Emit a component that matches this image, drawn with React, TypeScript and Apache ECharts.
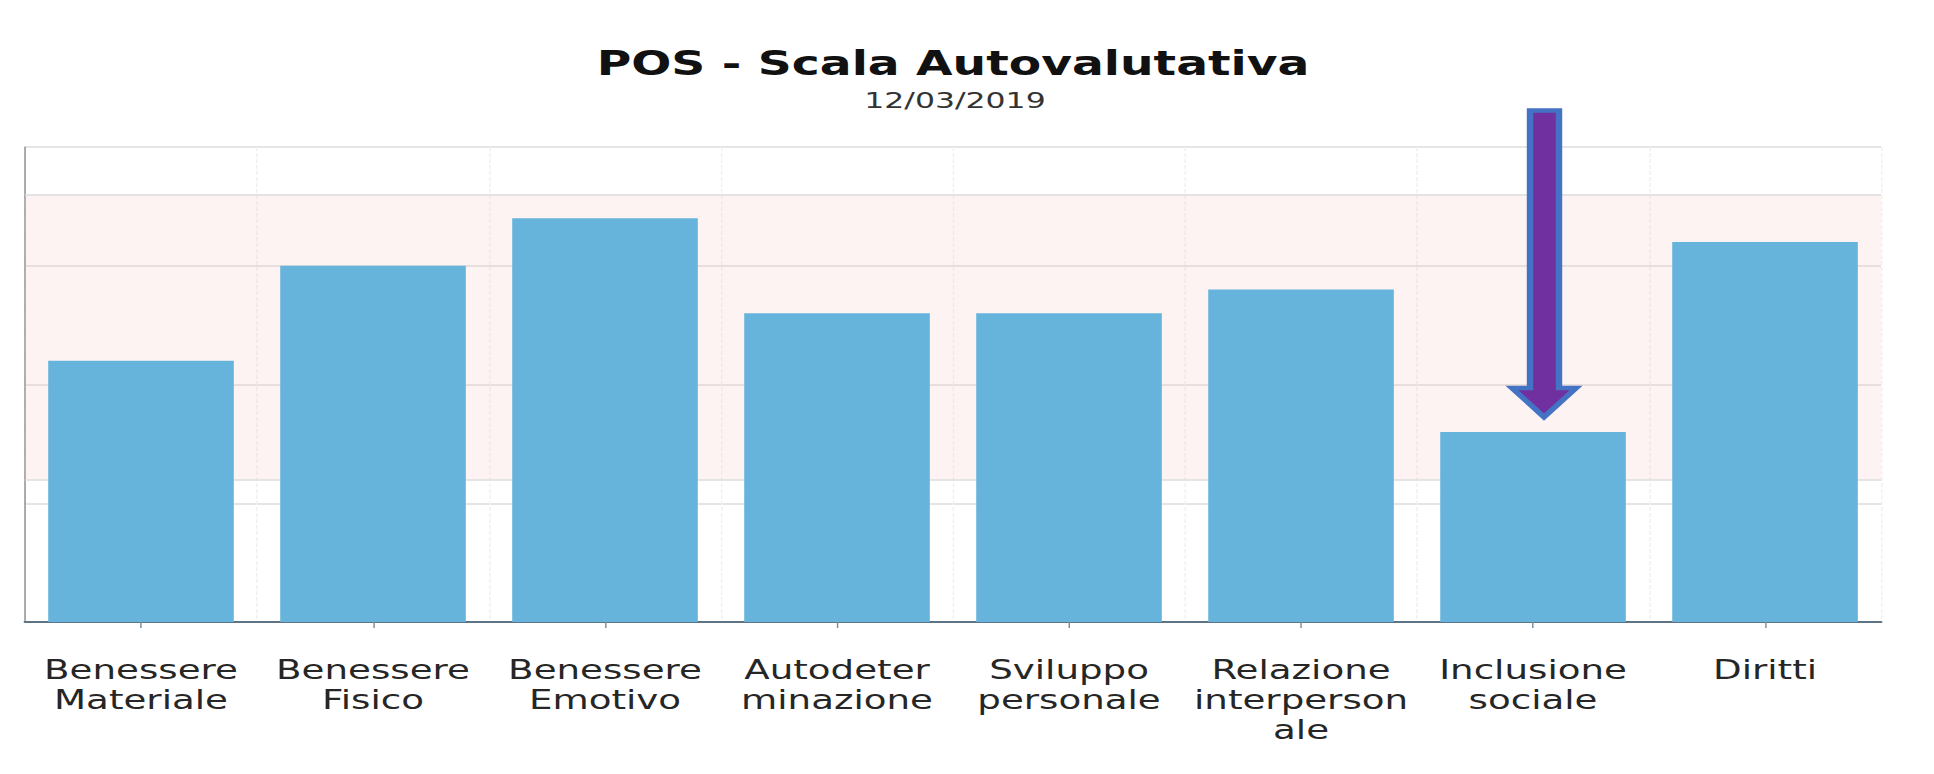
import React, { useEffect, useRef } from "react";
import * as echarts from "echarts";

// ---- data ----
const categories = [
  "Benessere\nMateriale",
  "Benessere\nFisico",
  "Benessere\nEmotivo",
  "Autodeter\nminazione",
  "Sviluppo\npersonale",
  "Relazione\ninterperson\nale",
  "Inclusione\nsociale",
  "Diritti",
];
const scores = [55, 75, 85, 65, 65, 70, 40, 80];
const bandRange = [30, 90];
const yMin = 0;
const yMax = 100;
const yStep = 25;
const titleText = "POS - Scala Autovalutativa";
const dateText = "12/03/2019";

// the reference picture is stretched horizontally; reproduce that stretch
const FULL_W = 1934;
const FULL_H = 774;
const STRETCH = 1.4305;
const INNER_W = FULL_W / STRETCH;
const ix = (x: number) => x / STRETCH;

export default function App() {
  const ref = useRef<HTMLDivElement | null>(null);

  useEffect(() => {
    document.body.style.margin = "0";
    if (!ref.current) return;
    const chart = echarts.init(ref.current, undefined, { renderer: "svg" });
    const font = "DejaVu Sans";

    const arrowPts = [
      [ix(1530), 110.5],
      [ix(1559), 110.5],
      [ix(1559), 388],
      [ix(1576), 388],
      [ix(1544), 417],
      [ix(1512), 388],
      [ix(1530), 388],
    ];

    chart.setOption({
      animation: false,
      backgroundColor: "#ffffff",
      textStyle: { fontFamily: font },
      grid: {
        left: ix(25),
        right: INNER_W - ix(1881),
        top: 147,
        bottom: FULL_H - 622,
        containLabel: false,
      },
      xAxis: {
        type: "category",
        data: categories,
        boundaryGap: true,
        axisLine: { lineStyle: { color: "#5d7486", width: 2 } },
        axisTick: {
          show: true,
          alignWithLabel: true,
          length: 6,
          lineStyle: { color: "#7b8c99", width: 1 },
        },
        axisLabel: {
          interval: 0,
          margin: 33,
          fontSize: 26,
          lineHeight: 30,
          color: "#262626",
          fontFamily: font,
        },
        splitLine: {
          show: true,
          interval: 0,
          lineStyle: { color: "#f4eeee", type: "dashed", width: 1 },
        },
      },
      yAxis: {
        type: "value",
        min: yMin,
        max: yMax,
        interval: yStep,
        axisLine: { show: true, lineStyle: { color: "#8c8c8c", width: 1 } },
        axisTick: { show: false },
        axisLabel: { show: false },
        splitLine: { lineStyle: { color: "#dddddd", width: 1.5 } },
      },
      series: [
        {
          type: "bar",
          data: scores,
          barCategoryGap: "20%",
          itemStyle: { color: "#66b4dc" },
          markArea: {
            silent: true,
            z: 1,
            itemStyle: { color: "rgba(248,195,195,0.2)" },
            data: [[{ yAxis: bandRange[0] }, { yAxis: bandRange[1] }]],
          },
          markLine: {
            silent: true,
            z: 1,
            symbol: "none",
            label: { show: false },
            lineStyle: { color: "#dddddd", width: 1.5, type: "solid" },
            data: bandRange.map((v) => ({ yAxis: v })),
          },
        },
      ],
      graphic: [
        {
          type: "text",
          x: ix(953),
          y: 47,
          style: {
            text: titleText,
            fontFamily: font,
            fontSize: 33,
            fontWeight: "bold",
            fill: "#111111",
            align: "center",
            verticalAlign: "top",
          },
        },
        {
          type: "text",
          x: ix(955),
          y: 89,
          style: {
            text: dateText,
            fontFamily: font,
            fontSize: 22,
            fill: "#333333",
            align: "center",
            verticalAlign: "top",
          },
        },
        {
          type: "polygon",
          z: 100,
          shape: { points: arrowPts },
          style: {
            fill: "#7030a0",
            stroke: "#4472c4",
            lineWidth: 4.5,
            lineJoin: "miter",
          },
        },
      ],
    });

    return () => {
      chart.dispose();
    };
  }, []);

  return (
    <div
      style={{
        position: "fixed",
        left: 0,
        top: 0,
        width: FULL_W,
        height: FULL_H,
        overflow: "hidden",
        background: "#ffffff",
      }}
    >
      <div
        ref={ref}
        style={{
          width: INNER_W,
          height: FULL_H,
          transform: `scaleX(${STRETCH})`,
          transformOrigin: "0 0",
        }}
      />
    </div>
  );
}
